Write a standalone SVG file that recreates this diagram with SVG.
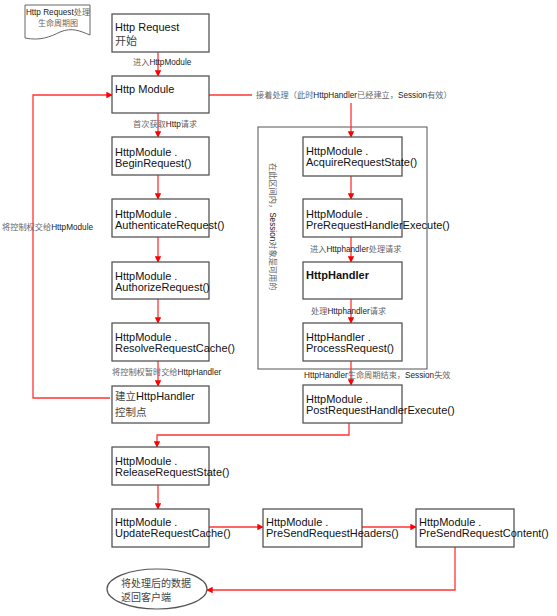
<svg xmlns="http://www.w3.org/2000/svg" width="557" height="616" viewBox="0 0 557 616">
<style>
.box{fill:#fff;stroke:#555;stroke-width:1.3}
.t{font-family:"Liberation Sans",Arial,"Noto Sans CJK SC",sans-serif;font-size:11px;fill:#111}
.c{font-family:"Noto Sans CJK SC",sans-serif;fill:#444}
.lbl{font-family:"Liberation Sans",Arial,"Noto Sans CJK SC",sans-serif;font-size:8.2px;fill:#222}
.lc{font-family:"Noto Sans CJK SC",sans-serif;fill:#666}
.ln{fill:none;stroke:#f33;stroke-width:1.3}
</style>
<defs>
<marker id="ah" viewBox="0 0 8 8" refX="7" refY="4" markerWidth="5" markerHeight="5" orient="auto">
<path d="M0,0 L8,4 L0,8 z" fill="#f00"/>
</marker>
</defs>
<rect width="557" height="616" fill="#fff"/>

<g id="legend">
<path d="M25,5 H90 V35 C80,31 72,27 60,32 C50,37 40,41 25,38 Z" fill="#fff" stroke="#666" stroke-width="1"/>
<text class="lbl" x="58" y="15" text-anchor="middle" font-size="8px">Http Request<tspan class="lc">处理</tspan></text>
<text class="lc" x="58" y="26" text-anchor="middle" font-size="8px">生命周期图</text>
</g>

<g id="container">
<rect x="258" y="127" width="169" height="242" fill="none" stroke="#555" stroke-width="1"/>
<text class="lbl" font-size="8px" transform="translate(270,163) rotate(90)"><tspan class="lc">在此区间内，</tspan>Session<tspan class="lc">对象是可用的</tspan></text>
</g>

<g id="connectors">
<path class="ln" d="M158,52 V76" marker-end="url(#ah)"/>
<path class="ln" d="M158,113 V137" marker-end="url(#ah)"/>
<path class="ln" d="M158,175 V199" marker-end="url(#ah)"/>
<path class="ln" d="M158,237 V262" marker-end="url(#ah)"/>
<path class="ln" d="M158,299 V323" marker-end="url(#ah)"/>
<path class="ln" d="M158,361 V386" marker-end="url(#ah)"/>
<path class="ln" d="M110,398 H33 V95 H112" stroke-width="1.8" stroke="#f55" marker-end="url(#ah)"/>
<path class="ln" d="M209,95 H252" stroke-width="1.6" stroke="#f55"/>
<path class="ln" d="M351,103 V137" marker-end="url(#ah)"/>
<path class="ln" d="M351,176 V199" marker-end="url(#ah)"/>
<path class="ln" d="M351,237 V262" marker-end="url(#ah)"/>
<path class="ln" d="M351,299 V323" marker-end="url(#ah)"/>
<path class="ln" d="M351,361 V385" marker-end="url(#ah)"/>
<path class="ln" d="M349,423 V435 H157 V447" stroke="#f55" stroke-width="1.5" marker-end="url(#ah)"/>
<path class="ln" d="M158,485 V509" marker-end="url(#ah)"/>
<path class="ln" d="M209,527 H263" stroke="#f55" stroke-width="1.6" marker-end="url(#ah)"/>
<path class="ln" d="M362,527 H416" stroke="#f55" stroke-width="1.6" marker-end="url(#ah)"/>
<path class="ln" d="M455,547 V590 H207" stroke="#f55" stroke-width="1.6" marker-end="url(#ah)"/>
</g>

<g id="labels">
<text class="lbl" x="133" y="65"><tspan class="lc">进入</tspan>HttpModule</text>
<text class="lbl" x="133" y="127"><tspan class="lc">首次获取</tspan>Http<tspan class="lc">请求</tspan></text>
<text class="lbl" x="2" y="230"><tspan class="lc">将控制权交给</tspan>HttpModule</text>
<text class="lbl" x="112" y="375"><tspan class="lc">将控制权暂时交给</tspan>HttpHandler</text>
<text class="lbl" x="256" y="98"><tspan class="lc">接着处理（此时</tspan>HttpHandler<tspan class="lc">已经建立，</tspan>Session<tspan class="lc">有效）</tspan></text>
<text class="lbl" x="310" y="252"><tspan class="lc">进入</tspan>Httphandler<tspan class="lc">处理请求</tspan></text>
<text class="lbl" x="311" y="314"><tspan class="lc">处理</tspan>Httphandler<tspan class="lc">请求</tspan></text>
<text class="lbl" x="304" y="378">HttpHandler<tspan class="lc">生命周期结束，</tspan>Session<tspan class="lc">失效</tspan></text>
</g>

<g id="n-request">
<rect class="box" x="112" y="14" width="97" height="38"/>
<text class="t" x="115" y="31">Http Request</text>
<text class="c" x="115" y="45" font-size="11px">开始</text>
</g>
<g id="n-module">
<rect class="box" x="112" y="76" width="97" height="37"/>
<text class="t" x="115" y="93">Http Module</text>
</g>
<g id="n-begin">
<rect class="box" x="112" y="137" width="97" height="38"/>
<text class="t" x="115" y="156">HttpModule .</text>
<text class="t" x="115" y="167">BeginRequest()</text>
</g>
<g id="n-auth">
<rect class="box" x="112" y="199" width="97" height="38"/>
<text class="t" x="115" y="218">HttpModule .</text>
<text class="t" x="115" y="229">AuthenticateRequest()</text>
</g>
<g id="n-authz">
<rect class="box" x="112" y="262" width="97" height="37"/>
<text class="t" x="115" y="280">HttpModule .</text>
<text class="t" x="115" y="291">AuthorizeRequest()</text>
</g>
<g id="n-resolve">
<rect class="box" x="112" y="323" width="97" height="38"/>
<text class="t" x="115" y="341">HttpModule .</text>
<text class="t" x="115" y="352">ResolveRequestCache()</text>
</g>
<g id="n-create">
<rect class="box" x="112" y="386" width="97" height="37"/>
<text class="t" x="115" y="400"><tspan class="c" font-size="10.5px">建立</tspan>HttpHandler</text>
<text class="c" x="115" y="416" font-size="10.5px">控制点</text>
</g>
<g id="n-acquire">
<rect class="box" x="303" y="137" width="99" height="39"/>
<text class="t" x="306" y="155">HttpModule .</text>
<text class="t" x="306" y="166">AcquireRequestState()</text>
</g>
<g id="n-prereq">
<rect class="box" x="303" y="199" width="99" height="38"/>
<text class="t" x="306" y="218">HttpModule .</text>
<text class="t" x="306" y="229">PreRequestHandlerExecute()</text>
</g>
<g id="n-handler">
<rect class="box" x="303" y="262" width="99" height="37"/>
<text class="t" x="306" y="279" font-weight="bold">HttpHandler</text>
</g>
<g id="n-process">
<rect class="box" x="303" y="323" width="99" height="38"/>
<text class="t" x="306" y="341">HttpHandler .</text>
<text class="t" x="306" y="352">ProcessRequest()</text>
</g>
<g id="n-post">
<rect class="box" x="303" y="385" width="99" height="38"/>
<text class="t" x="306" y="403">HttpModule .</text>
<text class="t" x="306" y="414">PostRequestHandlerExecute()</text>
</g>
<g id="n-release">
<rect class="box" x="112" y="447" width="97" height="38"/>
<text class="t" x="115" y="465">HttpModule .</text>
<text class="t" x="115" y="476">ReleaseRequestState()</text>
</g>
<g id="n-update">
<rect class="box" x="112" y="509" width="97" height="38"/>
<text class="t" x="115" y="526">HttpModule .</text>
<text class="t" x="115" y="537">UpdateRequestCache()</text>
</g>
<g id="n-headers">
<rect class="box" x="263" y="509" width="99" height="38"/>
<text class="t" x="266" y="526">HttpModule .</text>
<text class="t" x="266" y="537">PreSendRequestHeaders()</text>
</g>
<g id="n-content">
<rect class="box" x="416" y="509" width="98" height="38"/>
<text class="t" x="419" y="526">HttpModule .</text>
<text class="t" x="419" y="537">PreSendRequestContent()</text>
</g>
<g id="n-return">
<ellipse cx="157" cy="589" rx="50" ry="20" fill="#fff" stroke="#555" stroke-width="1.2"/>
<text class="c" x="121" y="587" font-size="10px" fill="#333">将处理后的数据</text>
<text class="c" x="121" y="601" font-size="10px" fill="#333">返回客户端</text>
</g>
</svg>
